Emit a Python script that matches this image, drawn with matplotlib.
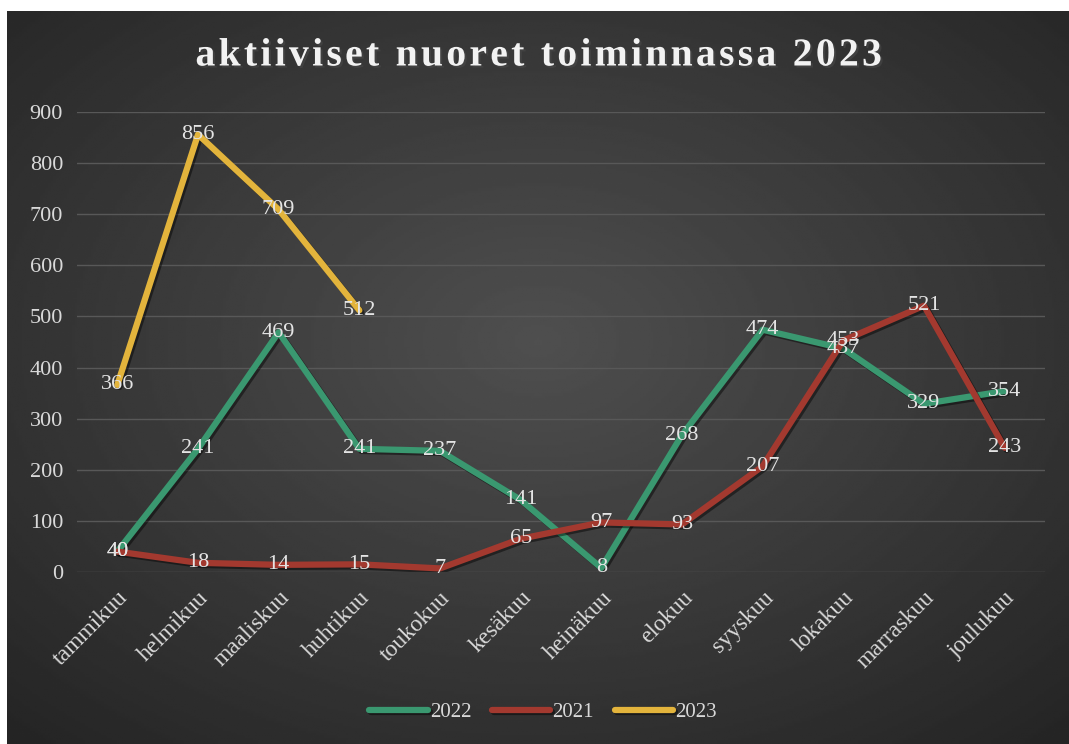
import numpy as np
import matplotlib.pyplot as plt
import matplotlib.patheffects as pe

months = ["tammikuu", "helmikuu", "maaliskuu", "huhtikuu", "toukokuu", "kesäkuu",
          "heinäkuu", "elokuu", "syyskuu", "lokakuu", "marraskuu", "joulukuu"]
v2022 = [40, 241, 469, 241, 237, 141, 8, 268, 474, 437, 329, 354]
v2021 = [40, 18, 14, 15, 7, 65, 97, 93, 207, 453, 521, 243]
v2023 = [366, 856, 709, 512]

series = [("2022", v2022, "#3A9870"), ("2021", v2021, "#A3392F"), ("2023", v2023, "#E3B43C")]
title = "aktiiviset nuoret toiminnassa 2023"

plt.rcParams["font.family"] = ["Liberation Serif", "DejaVu Serif"]

fig = plt.figure(figsize=(10.69, 7.44), dpi=100)
fig.patch.set_facecolor("white")

# radial gradient background of the chart area
bg = fig.add_axes([7 / 1069, 0, 1 - 7 / 1069, 733 / 744])
yy, xx = np.mgrid[-1:1:300j, -1:1:400j]
r = np.sqrt(xx ** 2 + (yy + 0.1) ** 2) / np.sqrt(2)
bg.imshow(0.31 - 0.16 * r, cmap="gray", vmin=0, vmax=1, aspect="auto", extent=[0, 1, 0, 1])
bg.set_axis_off()

ax = fig.add_axes([77 / 1069, 1 - 572 / 744, (1045 - 77) / 1069, (572 - 112) / 744])
ax.set_facecolor("none")
x = np.arange(len(months))

shadow = [pe.SimpleLineShadow(offset=(1.5, -1.5), shadow_color="black", alpha=0.45), pe.Normal()]
for name, vals, col in series:
    ax.plot(x[:len(vals)], vals, color=col, lw=4.5, solid_capstyle="round",
            solid_joinstyle="round", label=name, path_effects=shadow)
    for xi, v in zip(x, vals):
        ax.text(xi, v, str(v), ha="center", va="center", fontsize=16, color="#e4e4e4")

ax.set_xlim(-0.5, len(months) - 0.5)
ax.set_ylim(0, 900)
ax.set_yticks(np.arange(0, 901, 100))
ax.set_xticks(x)
ax.set_xticklabels(months, rotation=45, ha="right", rotation_mode="anchor", fontsize=17)
ax.tick_params(axis="both", length=0, labelcolor="#d9d9d9")
ax.tick_params(axis="y", pad=10, labelsize=16)
ax.tick_params(axis="x", pad=11)
ax.grid(axis="y", color="#585858", lw=1)
ax.set_axisbelow(True)
for s in ax.spines.values():
    s.set_visible(False)

# title with a little letter spacing (hair spaces)
spaced = "\u200a".join(title)
fig.text(538 / 1069, 1 - 56 / 744, spaced,
         ha="center", va="center", fontsize=28.5, fontweight="bold", color="#f2f2f2",
         path_effects=[pe.withSimplePatchShadow(offset=(1.5, -1.5), alpha=0.6)])

leg = fig.legend(loc="center", bbox_to_anchor=(543 / 1069, 1 - 712 / 744), ncol=3,
                 frameon=False, fontsize=15, handlelength=2.8, handletextpad=0.1,
                 columnspacing=1.0, labelcolor="#d9d9d9")
for h in leg.get_lines():
    h.set_solid_capstyle("round")

fig.savefig("out.png", dpi=100)
